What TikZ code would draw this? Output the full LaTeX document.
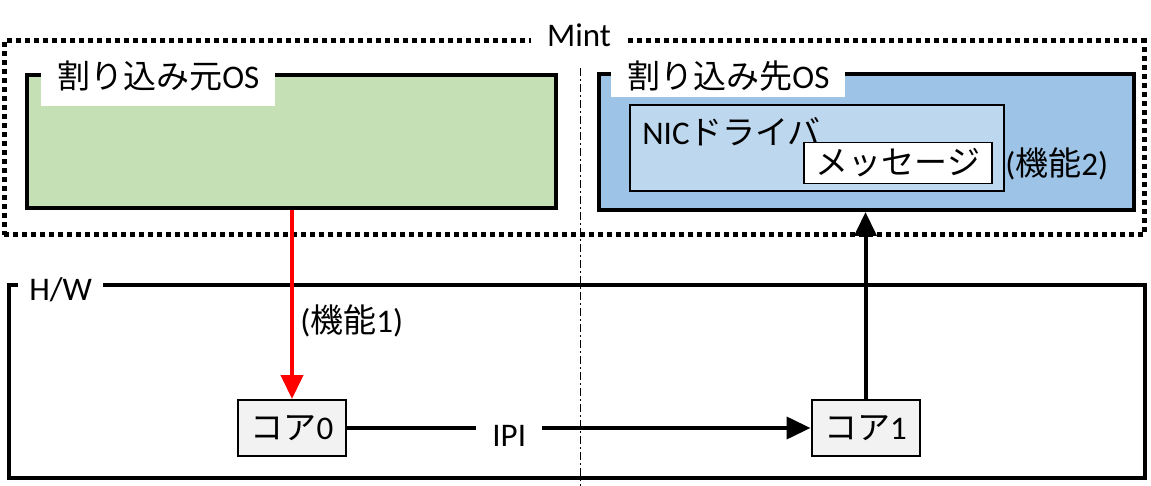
\documentclass[tikz,border=0pt]{standalone}
\usepackage{fontspec}
\setmainfont{Carlito}
\newfontfamily\jp{Noto Sans CJK JP}
\usetikzlibrary{arrows.meta}
\definecolor{srcgreen}{HTML}{C5E0B4}
\definecolor{dstblue}{HTML}{9DC3E6}
\definecolor{nicblue}{HTML}{BDD7EE}
\definecolor{coregray}{HTML}{F2F2F2}

\begin{document}
\begin{tikzpicture}[x=0.5pt,y=-0.5pt,font=\fontsize{16.5}{19}\selectfont,
  osbox/.style={draw=black,line width=2pt,inner sep=0pt},
  tag/.style={fill=white,inner ysep=0pt,inner xsep=8pt},
  core/.style={draw=black,line width=1pt,fill=coregray,minimum width=54pt,minimum height=28pt,inner sep=0pt},
  arr/.style={line width=2pt,-{Triangle[length=12pt,width=11pt]}}]
  \useasboundingbox (0,0) rectangle (1151,486);
  \coordinate (ctop) at (580,68);
  \coordinate (cbot) at (580,486);
  \draw[line width=0.5pt,dash pattern=on 4pt off 1.5pt on 1pt off 1.5pt] (ctop) -- (cbot);
  \node[draw=black,line width=2.5pt,dash pattern=on 2.5pt off 2pt,minimum width=570pt,minimum height=97pt] (Mint) at (574,138) {};
  \node[fill=white,inner xsep=8pt,anchor=base] (MintT) at (579,47) {Mint};
  \node[osbox,fill=srcgreen,minimum width=264.5pt,minimum height=66.5pt] (Src) at (291.5,141.5) {};
  \node[tag,anchor=base west,text height=10pt,text depth=8.5pt] (SrcT) at (41,89) {{\jp 割り込み元}OS};
  \node[osbox,fill=dstblue,minimum width=267.5pt,minimum height=68pt] (Dst) at (866.5,142) {};
  \node[tag,anchor=base west,text height=10pt,text depth=4pt] (DstT) at (611,89) {{\jp 割り込み先}OS};
  \node[draw=black,line width=0.75pt,fill=nicblue,minimum width=187pt,minimum height=43pt,inner sep=0pt] (NIC) at (817,148) {};
  \node[anchor=base west,inner sep=0pt] (NICT) at (642,145) {NIC{\jp ドライバ}};
  \node[draw=black,line width=0.75pt,fill=white,minimum width=94pt,minimum height=20.5pt,inner sep=0pt] (Msg) at (898,163) {\jp メッセージ};
  \node[anchor=west,inner sep=1pt] (F2) at (1003,164) {({\jp 機能}2)};
  \node[osbox,minimum width=568pt,minimum height=96.5pt] (HW) at (577,381.5) {};
  \node[fill=white,inner xsep=5.5pt,anchor=base west] (HWT) at (18,300) {H/W};
  \node[core] (Core0) at (292,428) {{\jp コア}0};
  \node[core] (Core1) at (865.5,428) {{\jp コア}1};
  \node[anchor=west,inner sep=0pt] (F1) at (300,321) {({\jp 機能}1)};
  \begin{scope}[arr]
    \draw[red] (Core0.north |- Src.south) -- (Core0.north);
    \draw (Core0.east) -- node[tag,pos=0.35,yshift=-4pt,inner ysep=2pt] (IPI) {IPI} (Core1.west);
    \draw (Core1.north) -- (Core1.north |- Dst.south);
  \end{scope}
\end{tikzpicture}
\end{document}
